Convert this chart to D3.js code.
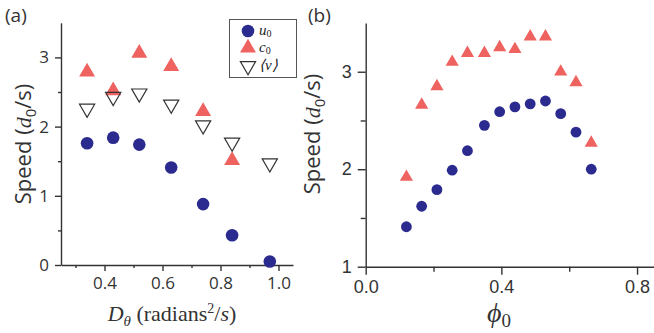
<!DOCTYPE html>
<html>
<head>
<meta charset="utf-8">
<script src="https://cdn.jsdelivr.net/npm/d3@7"></script>
<style>
  body { margin: 0; background: #fff; }
  svg { display: block; }
  .axis path, .axis line { stroke: #333; stroke-width: 1.4; }
  .axis text { fill: #333; }
</style>
</head>
<body>
<script>
// panel (a): speed vs rotational diffusion
const dTheta = [0.34, 0.43, 0.52, 0.63, 0.74, 0.84, 0.97];
const u0A = [1.76, 1.84, 1.74, 1.41, 0.88, 0.43, 0.05];
const c0A = [2.79, 2.52, 3.06, 2.87, 2.22, 1.51];
const vMean = [2.26, 2.43, 2.48, 2.32, 2.02, 1.77, 1.47];

// panel (b): speed vs packing fraction
const phi0 = [0.12, 0.165, 0.21, 0.255, 0.30, 0.35, 0.395, 0.44, 0.485, 0.53, 0.575, 0.62, 0.665];
const u0B = [1.41, 1.62, 1.79, 1.99, 2.19, 2.45, 2.59, 2.64, 2.67, 2.70, 2.57, 2.38, 2.00];
const c0B = [1.92, 2.66, 2.85, 3.10, 3.19, 3.19, 3.25, 3.23, 3.36, 3.36, 3.00, 2.89, 2.27];

const xTicksA = [0.4, 0.6, 0.8, 1.0];
const xMinorA = [0.3, 0.5, 0.7, 0.9];
const yTicksA = [0, 1, 2, 3];
const yMinorA = [0.5, 1.5, 2.5];
const xTicksB = [0.0, 0.4, 0.8];
const xMinorB = [0.2, 0.6];
const yTicksB = [1, 2, 3];
const yMinorB = [1.5, 2.5];

const navy = "#2b2b8f", salmon = "#ee625f";

const svg = d3.select("body").append("svg")
  .attr("width", 654).attr("height", 333);

const xA = d3.scaleLinear().domain([0.25, 1.05]).range([61, 293]);
const yA = d3.scaleLinear().domain([0, 3.5]).range([265, 22.8]);
const xB = d3.scaleLinear().domain([0, 0.85]).range([365.7, 654]);
const yB = d3.scaleLinear().domain([1, 3.5]).range([266.7, 23]);

function drawAxes(x, y, xt, xm, yt, ym, font, majorLen, minorLen) {
  const y0 = y.range()[0], x0 = x.range()[0];
  svg.append("g").attr("class", "axis")
    .attr("transform", "translate(0," + y0 + ")")
    .call(d3.axisBottom(x).tickValues(xt).tickFormat(d3.format(".1f")).tickSize(majorLen).tickSizeOuter(0).tickPadding(6))
    .call(g => g.selectAll("text").style("font", font));
  svg.append("g").attr("class", "axis")
    .attr("transform", "translate(0," + y0 + ")")
    .call(d3.axisBottom(x).tickValues(xm).tickFormat("").tickSize(minorLen).tickSizeOuter(0))
    .call(g => g.select(".domain").remove());
  svg.append("g").attr("class", "axis")
    .attr("transform", "translate(" + x0 + ",0)")
    .call(d3.axisLeft(y).tickValues(yt).tickFormat(d3.format("d")).tickSize(majorLen).tickSizeOuter(0).tickPadding(6))
    .call(g => g.selectAll("text").style("font", font));
  svg.append("g").attr("class", "axis")
    .attr("transform", "translate(" + x0 + ",0)")
    .call(d3.axisLeft(y).tickValues(ym).tickFormat("").tickSize(minorLen).tickSizeOuter(0))
    .call(g => g.select(".domain").remove());
}

drawAxes(xA, yA, xTicksA, xMinorA, yTicksA, yMinorA, "17px 'Open Sans', sans-serif", 6, 3);
drawAxes(xB, yB, xTicksB, xMinorB, yTicksB, yMinorB, "18px 'Liberation Sans', Arial, sans-serif", 8, 5);

const tri = d3.symbol().type(d3.symbolTriangle);

// panel (a) marks
svg.append("g").selectAll("path").data(c0A).join("path")
  .attr("transform", (d, i) => "translate(" + xA(dTheta[i]) + "," + yA(d) + ")")
  .attr("d", tri.size(110)())
  .attr("fill", salmon);
svg.append("g").selectAll("path").data(vMean).join("path")
  .attr("transform", (d, i) => "translate(" + xA(dTheta[i]) + "," + yA(d) + ") rotate(180)")
  .attr("d", tri.size(100)())
  .attr("fill", "none").attr("stroke", "#333").attr("stroke-width", 1.2);
svg.append("g").selectAll("circle").data(u0A).join("circle")
  .attr("cx", (d, i) => xA(dTheta[i])).attr("cy", d => yA(d))
  .attr("r", 6.3).attr("fill", navy);

// panel (b) marks
svg.append("g").selectAll("path").data(c0B).join("path")
  .attr("transform", (d, i) => "translate(" + xB(phi0[i]) + "," + yB(d) + ")")
  .attr("d", tri.size(75)())
  .attr("fill", salmon);
svg.append("g").selectAll("circle").data(u0B).join("circle")
  .attr("cx", (d, i) => xB(phi0[i])).attr("cy", d => yB(d))
  .attr("r", 5.4).attr("fill", navy);

// legend
const leg = svg.append("g");
leg.append("rect").attr("x", 229.5).attr("y", 19.5).attr("width", 67).attr("height", 58)
  .attr("fill", "#fff").attr("stroke", "#555").attr("stroke-width", 1);
const legItems = [
  { name: "u", sub: "0", y: 31 },
  { name: "c", sub: "0", y: 48 },
  { name: "\u27E8v\u27E9", sub: "", y: 66 }
];
leg.append("circle").attr("cx", 248).attr("cy", legItems[0].y).attr("r", 6.3).attr("fill", navy);
leg.append("path").attr("transform", "translate(248," + legItems[1].y + ")")
  .attr("d", tri.size(110)()).attr("fill", salmon);
leg.append("path").attr("transform", "translate(248," + legItems[2].y + ") rotate(180)")
  .attr("d", tri.size(100)()).attr("fill", "none").attr("stroke", "#333").attr("stroke-width", 1.2);
legItems.forEach(it => {
  const t = leg.append("text").attr("x", 259).attr("y", it.y + 4)
    .style("font", "italic 15px 'Liberation Serif', serif").attr("fill", "#222");
  t.append("tspan").text(it.name);
  if (it.sub) t.append("tspan").attr("dy", 2).style("font-style", "normal").style("font-size", "10px").text(it.sub);
});

// panel labels
svg.append("text").attr("x", 5).attr("y", 22).text("(a)")
  .style("font", "19px 'Open Sans', sans-serif").attr("fill", "#333");
svg.append("text").attr("x", 308).attr("y", 22).text("(b)")
  .style("font", "19px 'Open Sans', sans-serif").attr("fill", "#333");

// y labels
function speedLabel(cx, cy) {
  const t = svg.append("text")
    .attr("transform", "translate(" + cx + "," + cy + ") rotate(-90)")
    .attr("text-anchor", "middle")
    .style("font", "22px 'Open Sans', sans-serif").attr("fill", "#333");
  t.append("tspan").text("Speed (");
  t.append("tspan").style("font-family", "'Liberation Serif', serif").style("font-style", "italic").text("d");
  t.append("tspan").attr("dy", 5).style("font-size", "15px").text("0");
  t.append("tspan").attr("dy", -5).text("/s)");
}
speedLabel(31, 144);
speedLabel(320, 134);

// x labels
const xlA = svg.append("text").attr("x", 172).attr("y", 321).attr("text-anchor", "middle")
  .style("font", "22px 'Liberation Serif', serif").attr("fill", "#333");
xlA.append("tspan").style("font-style", "italic").text("D");
xlA.append("tspan").attr("dy", 5).style("font-style", "italic").style("font-size", "15px").text("\u03B8");
xlA.append("tspan").attr("dy", -5).text(" (radians");
xlA.append("tspan").attr("dy", -8).style("font-size", "14px").text("2");
xlA.append("tspan").attr("dy", 8).text("/");
xlA.append("tspan").style("font-style", "italic").text("s");
xlA.append("tspan").text(")");

const xlB = svg.append("text").attr("x", 499).attr("y", 322).attr("text-anchor", "middle")
  .style("font", "28px 'Liberation Serif', serif").attr("fill", "#333");
xlB.append("tspan").style("font-style", "italic").text("\u03D5");
xlB.append("tspan").attr("dy", 5).style("font-size", "19px").text("0");
</script>
</body>
</html>
